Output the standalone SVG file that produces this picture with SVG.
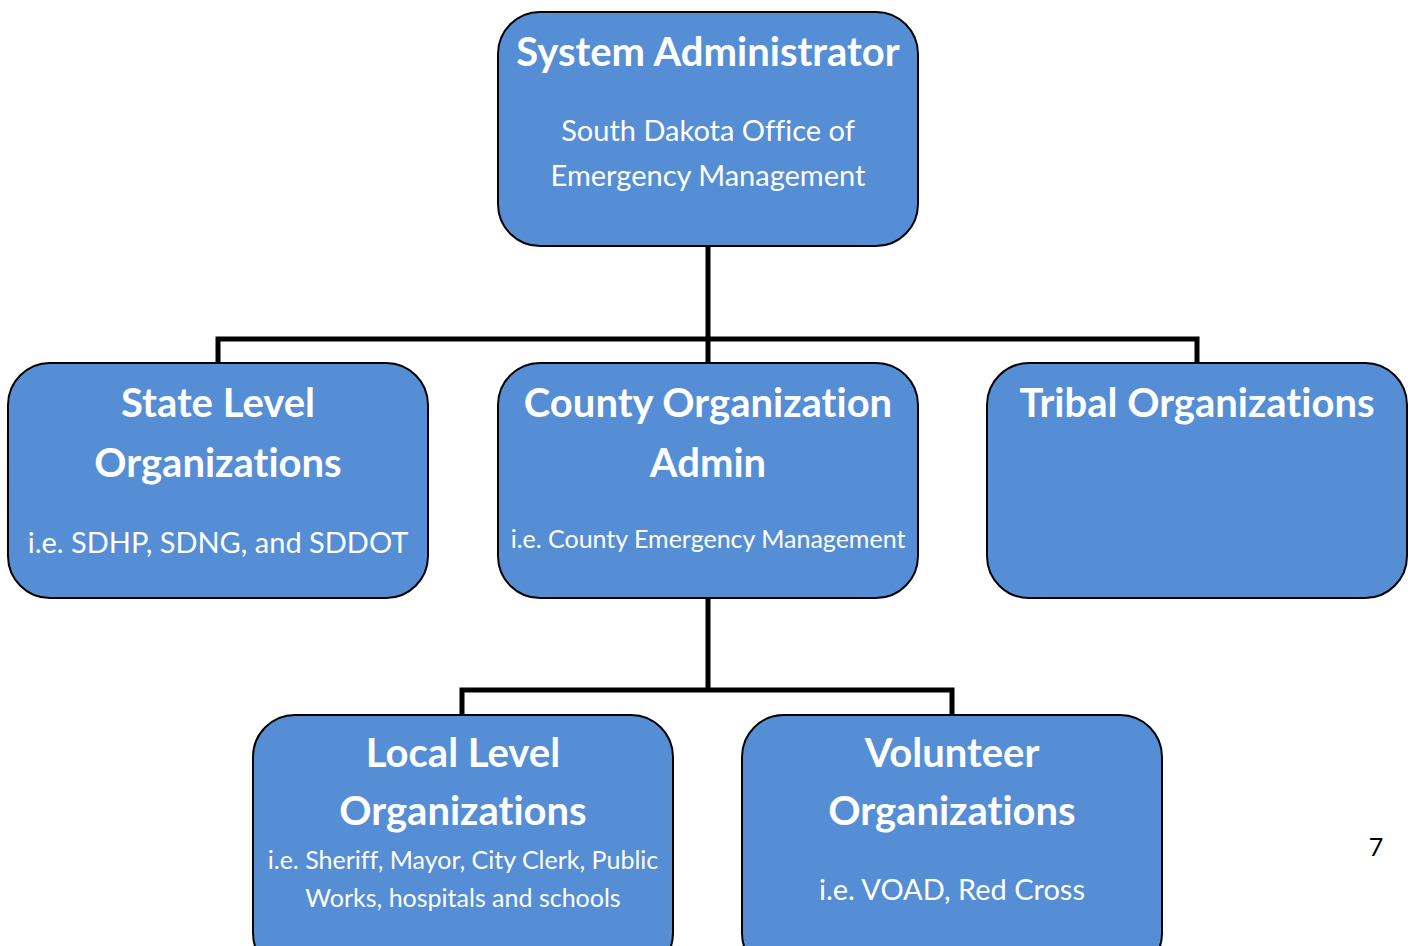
<svg xmlns="http://www.w3.org/2000/svg" width="1408" height="946" viewBox="0 0 1408 946">
  <style>
    .box { fill: #558ed5; stroke: #000; stroke-width: 2; }
    .wire { fill: none; stroke: #000; stroke-width: 5; stroke-linejoin: miter; stroke-linecap: butt; }
    text { font-family: Lato, "Open Sans", "Liberation Sans", sans-serif; fill: #fff; text-anchor: middle; font-variant-ligatures: none; }
    .title { font-size: 40px; font-weight: bold; }
    .sub { font-size: 29px; }
    .small { font-size: 25px; }
    .page { fill: #000; font-size: 25px; }
  </style>
  <rect width="1408" height="946" fill="#fff"/>

  <g id="connectors">
    <path class="wire" d="M708 246 V339 M218 363 V339 H1197 V363 M708 339 V363"/>
    <path class="wire" d="M708 598 V690 M462 715 V690 H952 V715"/>
  </g>

  <g id="system-administrator">
    <rect class="box" x="498" y="12" width="420" height="234" rx="42"/>
    <text class="title" x="708" y="66">System Administrator</text>
    <text class="sub" x="708" y="141">South Dakota Office of</text>
    <text class="sub" x="708" y="186">Emergency Management</text>
  </g>

  <g id="state-level">
    <rect class="box" x="8" y="363" width="420" height="235" rx="42"/>
    <text class="title" x="218" y="417">State Level</text>
    <text class="title" x="218" y="477">Organizations</text>
    <text class="sub" x="218" y="553">i.e. SDHP, SDNG, and SDDOT</text>
  </g>

  <g id="county-admin">
    <rect class="box" x="498" y="363" width="420" height="235" rx="42"/>
    <text class="title" x="708" y="417">County Organization</text>
    <text class="title" x="708" y="477">Admin</text>
    <text class="small" x="708" y="548">i.e. County Emergency Management</text>
  </g>

  <g id="tribal">
    <rect class="box" x="987" y="363" width="420" height="235" rx="42"/>
    <text class="title" x="1197" y="417">Tribal Organizations</text>
  </g>

  <g id="local-level">
    <rect class="box" x="253" y="715" width="420" height="260" rx="42"/>
    <text class="title" x="463" y="767">Local Level</text>
    <text class="title" x="463" y="825">Organizations</text>
    <text class="small" x="463" y="869">i.e. Sheriff, Mayor, City Clerk, Public</text>
    <text class="small" x="463" y="907">Works, hospitals and schools</text>
  </g>

  <g id="volunteer">
    <rect class="box" x="742" y="715" width="420" height="260" rx="42"/>
    <text class="title" x="952" y="767">Volunteer</text>
    <text class="title" x="952" y="825">Organizations</text>
    <text class="sub" x="952" y="900">i.e. VOAD, Red Cross</text>
  </g>

  <text class="page" x="1376" y="856">7</text>
</svg>
